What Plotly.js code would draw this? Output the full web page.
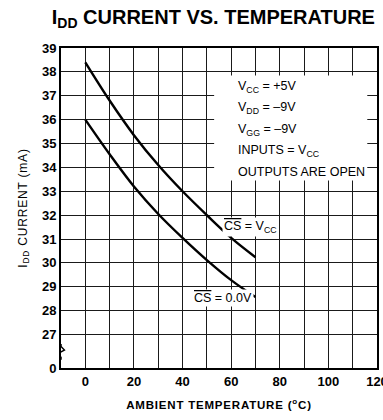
<!DOCTYPE html>
<html>
<head>
<meta charset="utf-8">
<script src="https://cdn.plot.ly/plotly-3.0.1.min.js"></script>
<style>html,body{margin:0;padding:0;background:#fff;}#chart{width:383px;height:420px;}</style>
</head>
<body>
<div id="chart"></div>
<script>
// Data
const temperatures = [0, 10, 20, 30, 40, 50, 60, 70];                         // ambient temperature (°C)
const iddCsVcc     = [38.4, 36.8, 35.35, 34.1, 33.0, 32.0, 31.05, 30.24];     // CS̄ = VCC (mA)
const iddCs0V      = [36.0, 34.55, 33.2, 32.05, 31.05, 30.12, 29.28, 28.57];  // CS̄ = 0.0V (mA)
const seriesNames  = ['CS = VCC', 'CS = 0.0V'];
const xTickVals    = [0, 10, 20, 30, 40, 50, 60, 70, 80, 90, 100, 110, 120];
const xTickText    = ['0', '', '20', '', '40', '', '60', '', '80', '', '100', '', '120'];
const yBreakBottom = 25.6; // axis bottom, labelled "0" (broken axis)
const yTickVals    = [yBreakBottom, 27, 28, 29, 30, 31, 32, 33, 34, 35, 36, 37, 38, 39];
const yTickText    = ['0', '27', '28', '29', '30', '31', '32', '33', '34', '35', '36', '37', '38', '39'];
const conditions   = ['V<sub>CC</sub> = +5V', 'V<sub>DD</sub> = –9V', 'V<sub>GG</sub> = –9V', 'INPUTS = V<sub>CC</sub>', 'OUTPUTS ARE OPEN'];
const conditionY   = [37.38, 36.48, 35.57, 34.68, 33.79];

const FONT = 'Liberation Sans, Arial, Helvetica, sans-serif';
const lineStyle = {color: '#000', width: 2.4, shape: 'spline', smoothing: 1};

const traces = [
  {x: temperatures, y: iddCsVcc, mode: 'lines', name: seriesNames[0], line: lineStyle, hoverinfo: 'skip'},
  {x: temperatures, y: iddCs0V, mode: 'lines', name: seriesNames[1], line: lineStyle, hoverinfo: 'skip'}
];

const annotations = conditions.map((t, i) => ({
  x: 62, y: conditionY[i], xref: 'x', yref: 'y', xanchor: 'left', yanchor: 'middle',
  text: t, showarrow: false, font: {family: FONT, size: 12.5, color: '#000'}
}));
annotations.push({
  x: 56.3, y: 31.49, xref: 'x', yref: 'y', xanchor: 'left', yanchor: 'middle',
  text: '<span style="text-decoration:overline">CS</span> = V<sub>CC</sub>', showarrow: false,
  bgcolor: '#fff', borderpad: 1, font: {family: FONT, size: 12.5, color: '#000'}
});
annotations.push({
  x: 44.0, y: 28.52, xref: 'x', yref: 'y', xanchor: 'left', yanchor: 'middle',
  text: '<span style="text-decoration:overline">CS</span> = 0.0V', showarrow: false,
  bgcolor: '#fff', borderpad: 1, font: {family: FONT, size: 12.5, color: '#000'}
});

const shapes = [
  // white panel behind the condition text
  {type: 'rect', xref: 'x', yref: 'y', x0: 53, x1: 116, y0: 33.45, y1: 37.85,
   fillcolor: '#fff', line: {width: 0}, layer: 'between'},
  // axis break: gap and zigzag on the left axis
  {type: 'line', xref: 'x', yref: 'y', x0: -10, x1: -10, y0: 26.05, y1: 26.55,
   line: {color: '#fff', width: 4}, layer: 'above'},
  {type: 'path', xref: 'x', yref: 'y', path: 'M -10 26.6 L -10 26.5 L -8.6 26.35 L -11.4 26.2 L -10 26.05 L -10 25.95',
   line: {color: '#000', width: 1.5}, layer: 'above'}
];

const layout = {
  width: 383, height: 420,
  margin: {l: 61, r: 6, t: 47.5, b: 52},
  paper_bgcolor: '#fff', plot_bgcolor: '#fff',
  showlegend: false,
  font: {family: FONT, color: '#000'},
  title: {
    text: '<b>I<sub>DD</sub> CURRENT VS. TEMPERATURE</b>',
    x: 0.557, xref: 'container', xanchor: 'center',
    y: 1 - 17 / 420, yref: 'container', yanchor: 'middle',
    font: {family: FONT, size: 20, color: '#000'}
  },
  xaxis: {
    range: [-10, 120], tickmode: 'array', tickvals: xTickVals, ticktext: xTickText,
    showgrid: true, gridcolor: '#1a1a1a', gridwidth: 1, zeroline: false,
    showline: true, linecolor: '#000', linewidth: 2, mirror: true, ticks: '',
    ticklabeloverflow: 'allow',
    tickfont: {family: FONT, size: 13, color: '#000', weight: 'bold'},
    title: {text: '<span style="letter-spacing:0.8px">AMBIENT TEMPERATURE (<sup>o</sup>C)</span>', standoff: 13,
            font: {family: FONT, size: 11.5, color: '#000', weight: 'bold'}},
    fixedrange: true
  },
  yaxis: {
    range: [yBreakBottom, 39], tickmode: 'array', tickvals: yTickVals, ticktext: yTickText,
    showgrid: true, gridcolor: '#1a1a1a', gridwidth: 1, zeroline: false,
    showline: true, linecolor: '#000', linewidth: 2, mirror: true, ticks: '',
    tickfont: {family: FONT, size: 13, color: '#000', weight: 'bold'},
    title: {text: '<span style="letter-spacing:0.8px">I<sub>DD</sub> CURRENT (mA)</span>', standoff: 12,
            font: {family: FONT, size: 12, color: '#000'}},
    fixedrange: true
  },
  annotations: annotations,
  shapes: shapes
};

Plotly.newPlot('chart', traces, layout, {staticPlot: true, displayModeBar: false});
</script>
</body>
</html>
